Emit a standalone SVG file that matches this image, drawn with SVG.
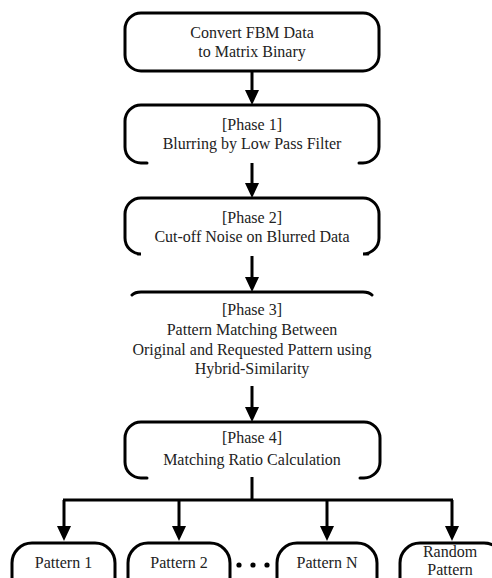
<svg xmlns="http://www.w3.org/2000/svg" width="492" height="578" viewBox="0 0 492 578">
<style>
.box{fill:none;stroke:#000;stroke-width:3;stroke-linecap:round}
.t{font-family:"Liberation Serif","Times New Roman","DejaVu Serif",serif;font-size:16px;fill:#222;text-anchor:middle}
.c{fill:none;stroke:#000;stroke-width:3}
</style>
<rect width="492" height="578" fill="#fff"/>
<g id="connectors">
<line class="c" x1="252" y1="71" x2="252" y2="91"/><path d="M245,90 L259,90 L252,105 Z"/>
<line class="c" x1="252" y1="163" x2="252" y2="184"/><path d="M245,183 L259,183 L252,198 Z"/>
<line class="c" x1="252" y1="256" x2="252" y2="278"/><path d="M245,277 L259,277 L252,292 Z"/>
<line class="c" x1="252" y1="386" x2="252" y2="408"/><path d="M245,407 L259,407 L252,422 Z"/>
<polyline class="c" points="252,477 252,500"/>
<line class="c" x1="63" y1="500" x2="453" y2="500"/>
<line class="c" x1="64" y1="500" x2="64" y2="527"/><path d="M57,526 L71,526 L64,541 Z"/>
<line class="c" x1="179" y1="500" x2="179" y2="527"/><path d="M172,526 L186,526 L179,541 Z"/>
<line class="c" x1="327" y1="500" x2="327" y2="527"/><path d="M320,526 L334,526 L327,541 Z"/>
<line class="c" x1="452" y1="500" x2="452" y2="527"/><path d="M445,526 L459,526 L452,541 Z"/>
</g>
<g id="n0">
<rect class="box" x="125" y="13" width="254" height="58" rx="16"/>
<text class="t" x="252" y="38">Convert FBM Data</text>
<text class="t" x="252" y="57">to Matrix Binary</text>
</g>
<g id="n1">
<path class="box" d="M147,163 H141 A16,16 0 0 1 125,147 V121 A16,16 0 0 1 141,105 H363 A16,16 0 0 1 379,121 V147 A16,16 0 0 1 363,163 H359"/>
<text class="t" x="252" y="130">[Phase 1]</text>
<text class="t" x="252" y="149">Blurring by Low Pass Filter</text>
</g>
<g id="n2">
<path class="box" d="M138,254 H141 A16,16 0 0 1 125,238 V214 A16,16 0 0 1 141,198 H363 A16,16 0 0 1 379,214 V238 A16,16 0 0 1 363,254 H368"/>
<text class="t" x="252" y="223">[Phase 2]</text>
<text class="t" x="252" y="242">Cut-off Noise on Blurred Data</text>
</g>
<g id="n3">
<path class="box" d="M132,295 Q135,292 141,292 H363 Q369,292 372,295"/>
<text class="t" x="252" y="315">[Phase 3]</text>
<text class="t" x="252" y="335">Pattern Matching Between</text>
<text class="t" x="252" y="355">Original and Requested Pattern using</text>
<text class="t" x="252" y="374">Hybrid-Similarity</text>
</g>
<g id="n4">
<path class="box" d="M147,478 H141 A16,16 0 0 1 125,462 V438 A16,16 0 0 1 141,422 H364 A16,16 0 0 1 380,438 V462 A16,16 0 0 1 364,478 H360"/>
<text class="t" x="252" y="443">[Phase 4]</text>
<text class="t" x="252" y="465">Matching Ratio Calculation</text>
</g>
<g id="p1">
<rect class="box" x="12" y="543" width="103" height="62" rx="20"/>
<text class="t" x="63.5" y="568">Pattern 1</text>
</g>
<g id="p2">
<rect class="box" x="128" y="543" width="102" height="62" rx="20"/>
<text class="t" x="179" y="568">Pattern 2</text>
</g>
<g id="dots">
<circle cx="239" cy="565" r="2.6"/><circle cx="253" cy="565" r="2.6"/><circle cx="267" cy="565" r="2.6"/>
</g>
<g id="pn">
<rect class="box" x="277" y="543" width="100" height="62" rx="20"/>
<text class="t" x="327" y="568">Pattern N</text>
</g>
<g id="pr">
<rect class="box" x="400" y="543" width="104" height="62" rx="20"/>
<text class="t" x="450" y="557">Random</text>
<text class="t" x="450" y="575">Pattern</text>
</g>
</svg>
